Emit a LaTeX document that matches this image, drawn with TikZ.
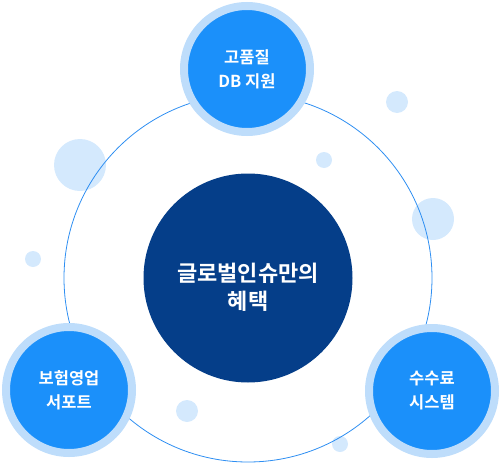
\documentclass[tikz,border=0pt]{standalone}
\usepackage{fontspec}
\newfontfamily\krfont{Noto Sans CJK KR Bold}
\usetikzlibrary{positioning}

\definecolor{coreblue}{HTML}{053E89}
\definecolor{nodeblue}{HTML}{1B90FA}
\definecolor{ringblue}{HTML}{BEDDFB}
\definecolor{bubbleblue}{HTML}{D4E9FD}
\definecolor{lineblue}{HTML}{2D8EF2}

\begin{document}
\begin{tikzpicture}[
    x=1pt, y=-1pt,
    hub/.style={circle, fill=coreblue, minimum size=209pt, inner sep=0pt},
    hubtext/.style={text=white, align=center, font=\krfont\fontsize{22}{28}\selectfont},
    satellite/.style={circle, fill=nodeblue, draw=ringblue, line width=8pt, minimum size=126pt, inner sep=0pt, text=white, align=center, font=\krfont\fontsize{16.5}{24}\selectfont},
    orbit/.style={draw=lineblue, line width=0.8pt}
]
\useasboundingbox (0,0) rectangle (501,466);

% Center
\node[hub] (core) at (248,278) {};
\node[hubtext] (coretext) at ([yshift=-9pt]core.center) {글로벌인슈만의\\혜택};

% Bubbles
\fill[bubbleblue] (397,102) circle (11pt);
\fill[bubbleblue] (80,165) circle (26pt);
\fill[bubbleblue] (324,160) circle (8pt);
\fill[bubbleblue] (433,219) circle (21pt);
\fill[bubbleblue] (33,259) circle (8pt);
\fill[bubbleblue] (187,411) circle (11pt);
\fill[bubbleblue] (340,444) circle (8pt);

% Orbit
\draw[orbit] (core.center) circle (184pt);

% Satellites
\node[satellite] (db) at (247,69) {고품질\\DB 지원};
\node[satellite] (sales) at (69,390) {보험영업\\서포트};
\node[satellite] (fee) at (432,391) {수수료\\시스템};
\end{tikzpicture}
\end{document}
